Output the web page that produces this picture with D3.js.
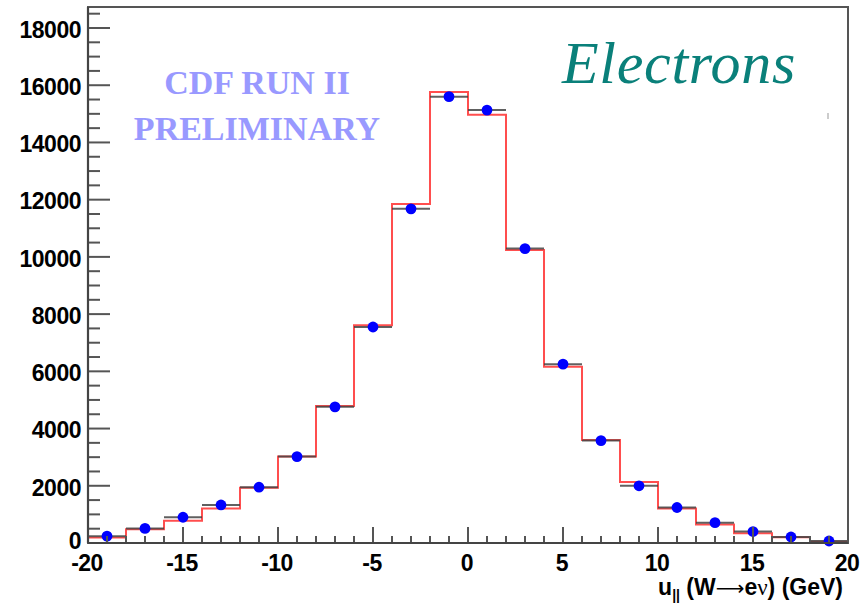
<!DOCTYPE html>
<html><head><meta charset="utf-8">
<script src="https://cdn.jsdelivr.net/npm/d3@7"></script>
<style>body{margin:0;background:#fff}svg{display:block}</style>
</head><body>
<svg id="c" width="862" height="604"></svg>
<script>
// bin edges & centers (GeV)
const binEdges = [-20,-18,-16,-14,-12,-10,-8,-6,-4,-2,0,2,4,6,8,10,12,14,16,18,20];
const binCenters = [-19,-17,-15,-13,-11,-9,-7,-5,-3,-1,1,3,5,7,9,11,13,15,17,19];
// data points (blue dots with x-error bars)
const dataValues = [240,510,900,1330,1950,3020,4760,7550,11680,15600,15130,10290,6250,3580,2000,1240,710,400,210,70];
// simulation histogram (red)
const mcValues = [190,480,780,1210,1935,3020,4790,7610,11850,15760,14970,10240,6160,3600,2130,1210,650,340,200,45];
const yTickLabels = [0,2000,4000,6000,8000,10000,12000,14000,16000,18000];
const xTickLabels = [-20,-15,-10,-5,0,5,10,15,20];

const svg = d3.select("#c");
const L=88, R=848, T=7, B=543;
const x = d3.scaleLinear().domain([-20,20]).range([L,R]);
const y = d3.scaleLinear().domain([0,18734]).range([B,T]);

// frame
svg.append("rect").attr("x",L).attr("y",T).attr("width",R-L).attr("height",B-T)
  .attr("fill","none").attr("stroke","#555").attr("stroke-width",2);

// red MC histogram
const mcPts = [];
mcValues.forEach((v,i)=>{ mcPts.push([binEdges[i],v]); mcPts.push([binEdges[i+1],v]); });
svg.append("path").datum(mcPts)
  .attr("d", d3.line().x(d=>x(d[0])).y(d=>y(d[1])))
  .attr("fill","none").attr("stroke","#ff3b3b").attr("stroke-width",2).attr("stroke-opacity",0.9);

// black x-error bars
svg.append("g").selectAll("line").data(dataValues).join("line")
  .attr("x1",(d,i)=>x(binEdges[i])).attr("x2",(d,i)=>x(binEdges[i+1]))
  .attr("y1",d=>y(d)).attr("y2",d=>y(d))
  .attr("stroke","#444").attr("stroke-width",2).attr("stroke-opacity",0.85);

// blue dots
svg.append("g").selectAll("circle").data(dataValues).join("circle")
  .attr("cx",(d,i)=>x(binCenters[i])).attr("cy",d=>y(d)).attr("r",5.4)
  .attr("fill","#0000ff");

// y axis ticks (inside)
const yMinor = d3.range(0,18501,500);
svg.append("g").selectAll("line").data(yMinor).join("line")
  .attr("x1",L).attr("x2",d=>L+(d%2000===0?22:12))
  .attr("y1",d=>y(d)).attr("y2",d=>y(d))
  .attr("stroke","#555").attr("stroke-width",2);
svg.append("g").selectAll("text").data(yTickLabels).join("text")
  .attr("x",L-7).attr("y",d=>y(d)+(d===0?6:9.8)).attr("text-anchor","end")
  .attr("font-family","Liberation Sans, Arial, sans-serif").attr("font-weight","bold")
  .attr("font-size",23).attr("letter-spacing",-0.5).attr("fill","#000")
  .text(d=>d);

// x axis ticks (inside)
const xMinor = d3.range(-20,21,1);
svg.append("g").selectAll("line").data(xMinor).join("line")
  .attr("x1",d=>x(d)).attr("x2",d=>x(d))
  .attr("y1",B).attr("y2",d=>B-(d%5===0?16:7))
  .attr("stroke","#555").attr("stroke-width",2);
svg.append("g").selectAll("text").data(xTickLabels).join("text")
  .attr("x",d=>x(d)-1).attr("y",571).attr("text-anchor","middle")
  .attr("font-family","Liberation Sans, Arial, sans-serif").attr("font-weight","bold")
  .attr("font-size",23).attr("letter-spacing",-0.5).attr("fill","#000")
  .text(d=>d);

// redraw axes lines on top
svg.append("line").attr("x1",L).attr("x2",L).attr("y1",T).attr("y2",B).attr("stroke","#444").attr("stroke-width",2.2);
svg.append("line").attr("x1",L).attr("x2",R).attr("y1",B).attr("y2",B).attr("stroke","#444").attr("stroke-width",2.2);

// x axis title
const xt = svg.append("text").attr("x",843).attr("y",595).attr("text-anchor","end")
  .attr("font-family","Liberation Sans, Arial, sans-serif").attr("font-weight","bold")
  .attr("font-size",23).attr("fill","#000");
xt.append("tspan").text("u");
xt.append("tspan").attr("font-size",14).attr("dy",5).text("||");
xt.append("tspan").attr("dy",-5).text(" (W");
xt.append("tspan").attr("font-family","DejaVu Sans").attr("font-weight","normal").attr("font-size",20).text("⟶");
xt.append("tspan").text("e");
xt.append("tspan").attr("font-family","Liberation Serif, serif").attr("font-weight","normal").attr("font-size",23).text("ν");
xt.append("tspan").text(") (GeV)");

// CDF preliminary
svg.append("text").attr("x",257).attr("y",94).attr("text-anchor","middle")
  .attr("font-family","Liberation Serif, Times New Roman, serif").attr("font-weight","bold")
  .attr("font-size",34).attr("fill","#9999ff").text("CDF RUN II");
svg.append("text").attr("x",257).attr("y",140).attr("text-anchor","middle")
  .attr("font-family","Liberation Serif, Times New Roman, serif").attr("font-weight","bold")
  .attr("font-size",34).attr("fill","#9999ff").text("PRELIMINARY");

// Electrons
svg.append("text").attr("x",562).attr("y",83)
  .attr("font-family","Liberation Serif, Times New Roman, serif").attr("font-style","italic")
  .attr("font-size",60).attr("letter-spacing",0.7).attr("fill","#0a807a").text("Electrons");

// tiny stray mark
svg.append("line").attr("x1",828).attr("x2",828).attr("y1",113).attr("y2",119)
  .attr("stroke","#bbb").attr("stroke-width",1.5);
</script>
</body></html>
